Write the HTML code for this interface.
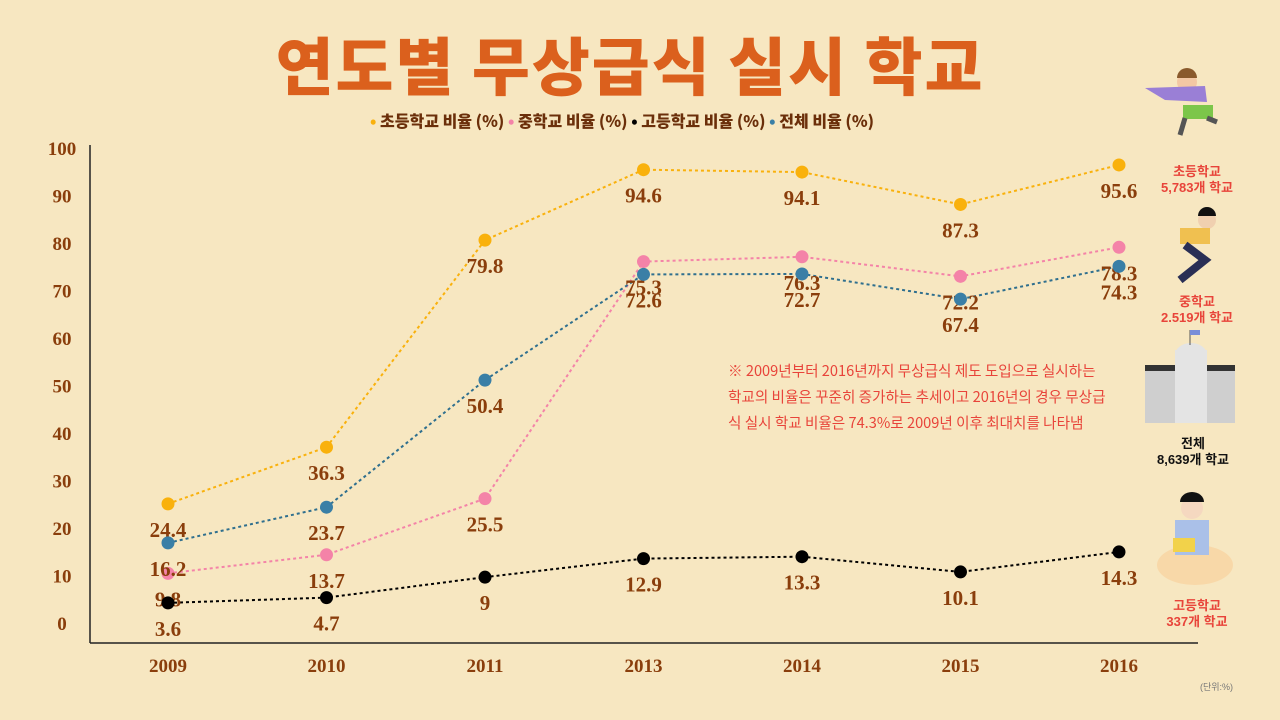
<!DOCTYPE html>
<html><head><meta charset="utf-8"><style>
body{margin:0;background:#f7e7c1;}
#c{position:relative;width:1280px;height:720px;overflow:hidden;background:#f7e7c1;font-family:"Liberation Sans","Noto Sans CJK KR",sans-serif;}
.t{position:absolute;}
</style></head><body>
<div id="c">
<div class="t" style="left:0;width:1260px;top:26px;text-align:center;font-size:63px;font-weight:900;color:#db601d;font-family:'Noto Sans CJK KR',sans-serif;letter-spacing:2px;line-height:76px;">연도별 무상급식 실시 학교</div>
<div class="t" style="left:0;width:1244px;top:108px;text-align:center;font-size:16px;font-weight:900;color:#6b2f0a;font-family:'Noto Sans CJK KR',sans-serif;">
<span><span style="color:#f9b10c">•</span> 초등학교 비율 (%)</span>
<span><span style="color:#f483a8">•</span> 중학교 비율 (%)</span>
<span><span style="color:#000">•</span> 고등학교 비율 (%)</span>
<span><span style="color:#3a7fa6">•</span> 전체 비율 (%)</span>
</div>
<svg id="svg" width="1280" height="720" style="position:absolute;left:0;top:0"></svg>
<div class="t" style="left:728px;top:358px;width:400px;font-size:14.6px;line-height:26px;color:#e8443a;font-family:'Noto Sans CJK KR',sans-serif;">※ 2009년부터 2016년까지 무상급식 제도 도입으로 실시하는<br>학교의 비율은 꾸준히 증가하는 추세이고 2016년의 경우 무상급<br>식 실시 학교 비율은 74.3%로 2009년 이후 최대치를 나타냄</div>
<div class="t" style="left:1200px;top:680px;font-size:9px;color:#777;">(단위:%)</div>
<svg width="120" height="600" style="position:absolute;left:1135px;top:60px">
<g><circle cx="52" cy="22" r="10" fill="#f3c8a4"/><path d="M42 18 a10 10 0 0 1 20 0z" fill="#8a5a2c"/><path d="M10 28 L70 26 L72 42 L30 40z" fill="#9a7fd6"/><rect x="48" y="45" width="30" height="14" fill="#7cc64a"/><path d="M50 58 L45 75 M72 58 L82 62" stroke="#555" stroke-width="5"/></g>
<text x="62" y="116" text-anchor="middle" font-size="13" font-weight="bold" fill="#e8443a">초등학교</text>
<text x="62" y="132" text-anchor="middle" font-size="13" font-weight="bold" fill="#e8443a">5,783개 학교</text>
<g><circle cx="72" cy="160" r="9" fill="#f0d0b0"/><path d="M63 156 a9 9 0 0 1 18 0z" fill="#111"/><rect x="45" y="168" width="30" height="16" fill="#f0c050"/><path d="M50 185 L70 200 L45 220" stroke="#2a2f55" stroke-width="8" fill="none"/></g>
<text x="62" y="246" text-anchor="middle" font-size="13" font-weight="bold" fill="#e8443a">중학교</text>
<text x="62" y="262" text-anchor="middle" font-size="13" font-weight="bold" fill="#e8443a">2.519개 학교</text>
<g><rect x="10" y="305" width="90" height="58" fill="#cfcfcf"/><rect x="10" y="305" width="90" height="6" fill="#333"/><rect x="40" y="290" width="32" height="73" fill="#e4e4e4"/><path d="M40 295 a16 12 0 0 1 32 0z" fill="#e4e4e4"/><line x1="55" y1="270" x2="55" y2="285" stroke="#555"/><rect x="55" y="270" width="10" height="5" fill="#7a8ed8"/></g>
<text x="58" y="388" text-anchor="middle" font-size="13" font-weight="bold" fill="#111">전체</text>
<text x="58" y="404" text-anchor="middle" font-size="13" font-weight="bold" fill="#111">8,639개 학교</text>
<g><ellipse cx="60" cy="505" rx="38" ry="20" fill="#f8d8a8"/><circle cx="57" cy="448" r="11" fill="#f5d8c0"/><path d="M45 442 a12 10 0 0 1 24 0z" fill="#111"/><rect x="40" y="460" width="34" height="35" fill="#aac0e8"/><rect x="38" y="478" width="22" height="14" fill="#f2d24a"/></g>
<text x="62" y="550" text-anchor="middle" font-size="13" font-weight="bold" fill="#e8443a">고등학교</text>
<text x="62" y="566" text-anchor="middle" font-size="13" font-weight="bold" fill="#e8443a">337개 학교</text>
</svg>
</div>
<script>
const years=["2009","2010","2011","2013","2014","2015","2016"];
const elementary=[24.4,36.3,79.8,94.6,94.1,87.3,95.6];
const middle=[9.8,13.7,25.5,75.3,76.3,72.2,78.3];
const high=[3.6,4.7,9,12.9,13.3,10.1,14.3];
const total=[16.2,23.7,50.4,72.6,72.7,67.4,74.3];
const yTicks=[0,10,20,30,40,50,60,70,80,90,100];
const NS="http://www.w3.org/2000/svg";
const svg=document.getElementById('svg');
function xS(i){return 168+i*158.5;}
function yS(v){return 620-v*4.76;}
function tickY(v){return 623-v*4.75;}
function mk(t,a){const e=document.createElementNS(NS,t);for(const k in a)e.setAttribute(k,a[k]);svg.appendChild(e);return e;}
let ax=mk('line',{x1:90,y1:145,x2:90,y2:643,stroke:'#222','stroke-width':1.5});


let bx=mk('line',{x1:90,y1:643,x2:1198,y2:643,stroke:'#222','stroke-width':1.5});


const lab="font-family:'Liberation Serif',serif;font-weight:bold;fill:#8a3e0c;";
yTicks.forEach(v=>{const t=mk('text',{x:62,y:tickY(v)+7,'text-anchor':'middle',style:lab+'font-size:19px'});t.textContent=v;

});
years.forEach((y,i)=>{const t=mk('text',{x:xS(i),y:672,'text-anchor':'middle',style:lab+'font-size:19px'});t.textContent=y;

});
const series=[[elementary,'#f9b10c','elementary'],[middle,'#f483a8','middle'],[high,'#000','high'],[total,'#2f6f8e','total']];
series.forEach(([d,c,n])=>{
 const p=mk('polyline',{points:d.map((v,i)=>xS(i)+','+yS(v)).join(' '),fill:'none',stroke:c,'stroke-width':2,'stroke-dasharray':'3,3'});
 
 
});
series.forEach(([d,c,n])=>{
 const fc=n==='total'?'#3a7fa6':c;
 d.forEach((v,i)=>{
  const ci=mk('circle',{cx:xS(i),cy:yS(v),r:6.5,fill:fc});
  
  
  const t=mk('text',{x:xS(i),y:yS(v)+33,'text-anchor':'middle',style:lab+'font-size:21px'});
  t.textContent=v;
  
  
 });
});
</script>
</body></html>
